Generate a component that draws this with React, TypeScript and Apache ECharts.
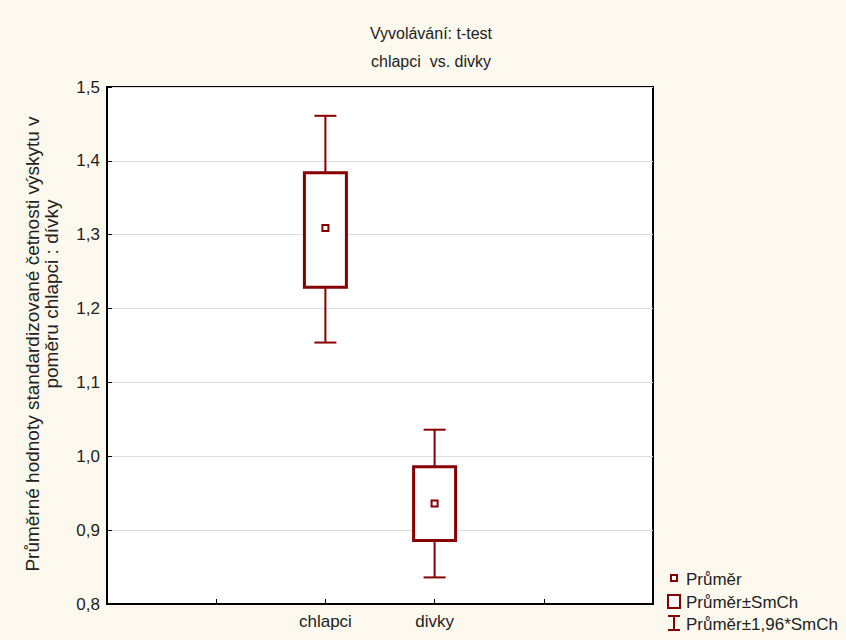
import React, { useEffect, useRef } from "react";
import * as echarts from "echarts";

const xCategories = ["", "", "chlapci", "divky", "", ""];
const groups = ["chlapci", "divky"];
const means = [1.309, 0.936];
const seLow = [1.229, 0.886];
const seHigh = [1.384, 0.986];
const ciLow = [1.154, 0.836];
const ciHigh = [1.461, 1.036];
const yTicks = [0.8, 0.9, 1.0, 1.1, 1.2, 1.3, 1.4, 1.5];
const titleLines = ["Vyvolávání: t-test", "chlapci  vs. divky"];
const yAxisTitle = ["Průměrné hodnoty standardizované četnosti výskytu v", "poměru chlapci : dívky"];
const legendItems = ["Průměr", "Průměr±SmCh", "Průměr±1,96*SmCh"];

const RED = "#870000";
const FONT = "'Liberation Sans', Arial, sans-serif";
const BG = "#FEF9EE";

export default function App() {
  const ref = useRef<HTMLDivElement>(null);
  useEffect(() => {
    if (!ref.current) return;
    const chart = echarts.init(ref.current, null, { renderer: "svg" });
    const data = groups.map((g, i) => [
      xCategories.indexOf(g),
      means[i],
      seLow[i],
      seHigh[i],
      ciLow[i],
      ciHigh[i],
    ]);
    const option: any = {
      animation: false,
      backgroundColor: BG,
      grid: {
        left: 107,
        top: 87,
        right: 193,
        bottom: 36,
        show: true,
        backgroundColor: "#ffffff",
        borderColor: "#000",
        borderWidth: 2,
      },
      xAxis: {
        type: "category",
        data: xCategories,
        boundaryGap: false,
        axisLine: { lineStyle: { color: "#000", width: 2 } },
        axisTick: { inside: true, length: 5, interval: 0, lineStyle: { color: "#000", width: 1 } },
        axisLabel: { interval: 0, margin: 9, color: "#222", fontSize: 17, fontFamily: FONT },
        splitLine: { show: false },
      },
      yAxis: {
        type: "value",
        min: yTicks[0],
        max: yTicks[yTicks.length - 1],
        interval: 0.1,
        axisLine: { show: true, lineStyle: { color: "#000", width: 2 } },
        axisTick: { show: true, inside: true, length: 5, lineStyle: { color: "#000", width: 1 } },
        axisLabel: {
          margin: 7,
          color: "#222",
          fontSize: 17,
          fontFamily: FONT,
          formatter: (v: number) => v.toFixed(1).replace(".", ","),
        },
        splitLine: { show: true, lineStyle: { color: "#dcdcdc", width: 1 } },
      },
      series: [
        {
          type: "custom",
          data,
          renderItem: (params: any, api: any) => {
            const x = api.value(0);
            const pMean = api.coord([x, api.value(1)]);
            const pLo = api.coord([x, api.value(2)]);
            const pHi = api.coord([x, api.value(3)]);
            const pCiLo = api.coord([x, api.value(4)]);
            const pCiHi = api.coord([x, api.value(5)]);
            const cx = pMean[0];
            const bw = 21;
            const cw = 11;
            const ls = { stroke: RED, lineWidth: 2 };
            return {
              type: "group",
              children: [
                { type: "line", shape: { x1: cx, y1: pCiHi[1], x2: cx, y2: pHi[1] }, style: ls },
                { type: "line", shape: { x1: cx, y1: pLo[1], x2: cx, y2: pCiLo[1] }, style: ls },
                { type: "line", shape: { x1: cx - cw, y1: pCiHi[1], x2: cx + cw, y2: pCiHi[1] }, style: ls },
                { type: "line", shape: { x1: cx - cw, y1: pCiLo[1], x2: cx + cw, y2: pCiLo[1] }, style: ls },
                {
                  type: "rect",
                  shape: { x: cx - bw, y: pHi[1], width: bw * 2, height: pLo[1] - pHi[1] },
                  style: { fill: "#fff", stroke: RED, lineWidth: 3 },
                },
                {
                  type: "rect",
                  shape: { x: cx - 3, y: pMean[1] - 3, width: 6, height: 6 },
                  style: { fill: "#fff", stroke: RED, lineWidth: 2 },
                },
              ],
            };
          },
        },
      ],
      graphic: [
        {
          type: "text",
          x: 431,
          y: 33,
          style: { text: titleLines[0], fill: "#222", font: `16px ${FONT}`, textAlign: "center", textVerticalAlign: "middle" },
        },
        {
          type: "text",
          x: 431,
          y: 61,
          style: { text: titleLines[1], fill: "#222", font: `16px ${FONT}`, textAlign: "center", textVerticalAlign: "middle" },
        },
        {
          type: "text",
          x: 32,
          y: 344,
          rotation: Math.PI / 2,
          style: { text: yAxisTitle[0], fill: "#222", font: `19px ${FONT}`, textAlign: "center", textVerticalAlign: "middle" },
        },
        {
          type: "text",
          x: 51,
          y: 294,
          rotation: Math.PI / 2,
          style: { text: yAxisTitle[1], fill: "#222", font: `19px ${FONT}`, textAlign: "center", textVerticalAlign: "middle" },
        },
        // legend icons
        { type: "rect", shape: { x: 671, y: 575, width: 6, height: 6 }, style: { fill: "#fff", stroke: RED, lineWidth: 2 } },
        { type: "rect", shape: { x: 668, y: 595, width: 12, height: 13 }, style: { fill: "#fff", stroke: RED, lineWidth: 2 } },
        { type: "line", shape: { x1: 674, y1: 616, x2: 674, y2: 630 }, style: { stroke: RED, lineWidth: 2 } },
        { type: "line", shape: { x1: 668, y1: 616, x2: 680, y2: 616 }, style: { stroke: RED, lineWidth: 2 } },
        { type: "line", shape: { x1: 668, y1: 630, x2: 680, y2: 630 }, style: { stroke: RED, lineWidth: 2 } },
        {
          type: "text",
          x: 686,
          y: 579,
          style: { text: legendItems[0], fill: "#222", font: `17px ${FONT}`, textVerticalAlign: "middle" },
        },
        {
          type: "text",
          x: 686,
          y: 602,
          style: { text: legendItems[1], fill: "#222", font: `17px ${FONT}`, textVerticalAlign: "middle" },
        },
        {
          type: "text",
          x: 686,
          y: 624,
          style: { text: legendItems[2], fill: "#222", font: `17px ${FONT}`, textVerticalAlign: "middle" },
        },
      ],
    };
    chart.setOption(option);
    return () => chart.dispose();
  }, []);
  return (
    <div
      ref={ref}
      style={{ position: "fixed", left: 0, top: 0, width: 846, height: 640, background: BG }}
    />
  );
}
